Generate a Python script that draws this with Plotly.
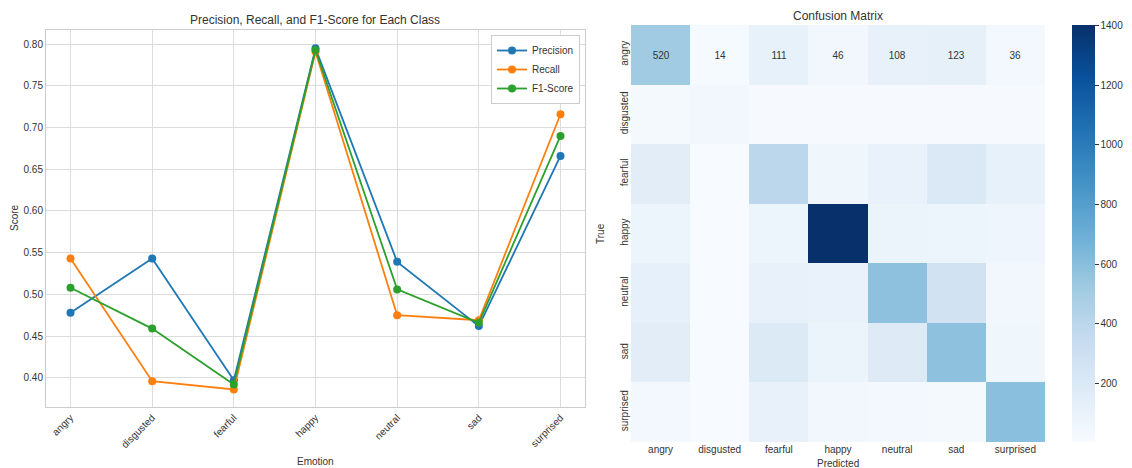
import plotly.graph_objects as go

emotions = ["angry", "disgusted", "fearful", "happy", "neutral", "sad", "surprised"]
precision = [0.478, 0.543, 0.397, 0.795, 0.539, 0.462, 0.666]
recall = [0.543, 0.396, 0.386, 0.791, 0.475, 0.469, 0.716]
f1_score = [0.508, 0.459, 0.392, 0.793, 0.506, 0.466, 0.690]

cm_angry = [520, 14, 111, 46, 108, 123, 36]
cm_disgusted = [20, 44, 8, 10, 8, 12, 9]
cm_fearful = [150, 5, 395, 60, 100, 200, 114]
cm_happy = [70, 3, 70, 1403, 85, 78, 65]
cm_neutral = [120, 2, 110, 100, 586, 270, 45]
cm_sad = [150, 4, 190, 80, 180, 585, 58]
cm_surprised = [30, 2, 110, 44, 30, 20, 595]
cbar_ticks = [200, 400, 600, 800, 1000, 1200, 1400]

cm = [cm_angry, cm_disgusted, cm_fearful, cm_happy, cm_neutral, cm_sad, cm_surprised]
# only the first row is annotated in the reference
cm_text = [[str(v) for v in cm_angry]] + [["" for _ in row] for row in cm[1:]]

FONT = "Liberation Sans, Arial, sans-serif"
TXT = "#333333"
# the page body has an 8px margin, so the figure is offset by 8px
OFF = 8
W, H = 1132 - OFF, 468 - OFF

def px(x):
    return (x - OFF) / W

def py(y):
    return 1 - (y - OFF) / H

blues = [[0.0, "#f7fbff"], [0.125, "#deebf7"], [0.25, "#c6dbef"], [0.375, "#9ecae1"],
         [0.5, "#6baed6"], [0.625, "#4292c6"], [0.75, "#2171b5"], [0.875, "#08519c"],
         [1.0, "#08306b"]]

fig = go.Figure()
for name, vals, col in [("Precision", precision, "#1f77b4"),
                        ("Recall", recall, "#ff7f0e"),
                        ("F1-Score", f1_score, "#2ca02c")]:
    fig.add_trace(go.Scatter(x=emotions, y=vals, mode="lines+markers", name=name,
                             line=dict(color=col, width=1.8),
                             marker=dict(size=8, color=col),
                             xaxis="x", yaxis="y"))

zmin = min(min(r) for r in cm)
zmax = max(max(r) for r in cm)
fig.add_trace(go.Heatmap(z=cm, x=emotions, y=emotions, colorscale=blues,
                         zmin=zmin, zmax=zmax, text=cm_text, texttemplate="%{text}",
                         textfont=dict(size=10, color="#333333", family=FONT),
                         xaxis="x2", yaxis="y2", showscale=True,
                         colorbar=dict(x=px(1072), xanchor="left", xpad=0, ypad=0,
                                       thickness=23,
                                       len=417 / H, lenmode="fraction",
                                       y=py(233.5), yanchor="middle",
                                       outlinewidth=0, ticks="outside", ticklen=4,
                                       tickcolor=TXT, tickvals=cbar_ticks,
                                       tickfont=dict(size=10, color=TXT, family=FONT))))

fig.update_layout(
    width=W, height=H, margin=dict(l=0, r=0, t=0, b=0, autoexpand=False),
    paper_bgcolor="white", plot_bgcolor="white",
    font=dict(family=FONT, color=TXT, size=10),
    showlegend=True,
    legend=dict(x=px(580), xanchor="right", y=py(35), yanchor="top",
                bordercolor="#cccccc", borderwidth=1, bgcolor="white",
                font=dict(size=10, color=TXT), itemwidth=30, tracegroupgap=0),
    xaxis=dict(domain=[px(46), px(585)], anchor="y", range=[-0.3, 6.3],
               tickangle=-45, showgrid=True, gridcolor="#dcdcdc", automargin=False,
               showline=True, mirror=True, linecolor="#cccccc", linewidth=1,
               zeroline=False, tickfont=dict(size=10, color=TXT)),
    yaxis=dict(domain=[py(407), py(30)], anchor="x", range=[0.365, 0.817],
               dtick=0.05, tickformat=".2f", showgrid=True, gridcolor="#dcdcdc",
               showline=True, mirror=True, linecolor="#cccccc", linewidth=1,
               automargin=False, zeroline=False, tickfont=dict(size=10, color=TXT)),
    xaxis2=dict(domain=[px(631), px(1045)], anchor="y2", showgrid=False, automargin=False,
                zeroline=False, showline=False, tickfont=dict(size=10, color=TXT)),
    yaxis2=dict(domain=[py(442), py(25)], anchor="x2", autorange="reversed",
                tickangle=-90, showgrid=False, zeroline=False, showline=False,
                automargin=False, tickfont=dict(size=10, color=TXT)),
    annotations=[
        dict(text="Precision, Recall, and F1-Score for Each Class", x=px(315), y=py(20),
             xanchor="center", yanchor="middle",
             xref="paper", yref="paper", showarrow=False, font=dict(size=12, color=TXT)),
        dict(text="Confusion Matrix", x=px(838), y=py(16), xref="paper", yref="paper",
             xanchor="center", yanchor="middle",
             showarrow=False, font=dict(size=12, color=TXT)),
        dict(text="Score", x=px(14), y=py(218), xref="paper", yref="paper",
             xanchor="center", yanchor="middle",
             showarrow=False, textangle=-90, font=dict(size=10, color=TXT)),
        dict(text="Emotion", x=px(315), y=py(461), xref="paper", yref="paper",
             xanchor="center", yanchor="middle",
             showarrow=False, font=dict(size=10, color=TXT)),
        dict(text="True", x=px(600), y=py(234), xref="paper", yref="paper",
             xanchor="center", yanchor="middle",
             showarrow=False, textangle=-90, font=dict(size=10, color=TXT)),
        dict(text="Predicted", x=px(838), y=py(463), xref="paper", yref="paper",
             xanchor="center", yanchor="middle",
             showarrow=False, font=dict(size=10, color=TXT)),
    ],
)

fig.write_html("out.html")
